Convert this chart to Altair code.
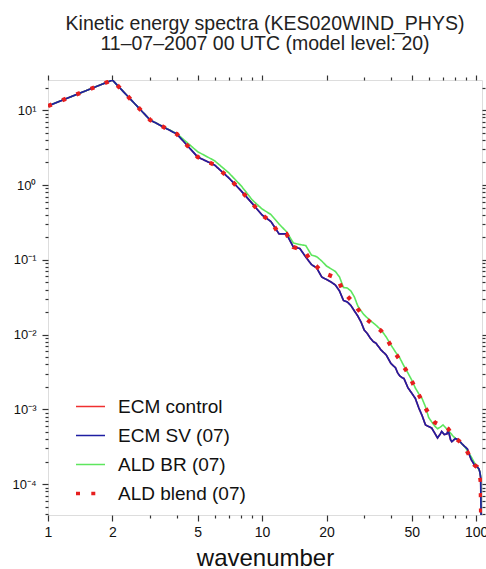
import altair as alt
import pandas as pd

# ---------------- data ----------------
SERIES = ["ECM control", "ECM SV (07)", "ALD BR (07)", "ALD blend (07)"]

k_sv = [1, 2, 3, 4, 5, 6, 7, 8, 9, 10, 11, 12, 13, 14, 15, 16, 17, 18, 19, 20,
        21, 22, 23, 24, 25, 26, 27, 28, 29, 30, 31, 32, 33, 34, 36, 38, 40, 42,
        43, 44, 45, 46, 48, 50, 52, 54, 56, 58, 60, 62, 64, 66, 68, 69, 71, 73,
        74, 76, 77, 80, 83, 86, 89, 91, 93, 95, 97, 99, 101, 103, 104, 105, 106]
v_sv = [11.4, 25.3, 7.4, 4.8, 2.37, 1.85, 1.24, 0.83, 0.566, 0.397,
        0.325, 0.222, 0.222, 0.148, 0.142, 0.109, 0.0865, 0.0777, 0.0589, 0.0545,
        0.0505, 0.046, 0.0383, 0.0286, 0.0273, 0.0245, 0.0207, 0.0177, 0.0147, 0.0115,
        0.01035, 0.0090, 0.0081, 0.0077, 0.0062, 0.00535, 0.0041, 0.0036,
        0.00307, 0.0028, 0.00267, 0.00259, 0.00195, 0.00165, 0.0014, 0.00104, 0.000817,
        0.000618, 0.00059, 0.000564, 0.000483, 0.000415, 0.000469, 0.000507,
        0.000461, 0.000469, 0.00053, 0.00039, 0.00037, 0.000408, 0.00039, 0.000344,
        0.000314, 0.000296, 0.000246, 0.000211, 0.000192, 0.000171, 0.000171,
        0.00016, 0.000146, 0.000121, 0.00001]

# control run lies underneath the SV run everywhere
k_ctl = list(k_sv)
v_ctl = list(v_sv)

k_br = [1, 2, 3, 4, 5, 6, 7, 8, 9, 10, 11, 12, 13, 14, 15, 16, 17, 18, 19, 20,
        22, 23, 24, 25, 26, 27, 28, 29, 30, 32, 34, 36, 38, 40, 42, 44, 46, 48,
        50, 52, 54, 56, 58, 60, 62, 64, 66, 68, 70, 72, 74, 76, 78, 80, 83, 86,
        89, 92, 95, 98, 101, 104, 105, 106]
v_br = [11.4, 25.3, 7.4, 4.85, 2.79, 2.11, 1.45, 0.97, 0.63, 0.478,
        0.403, 0.301, 0.238, 0.168, 0.16, 0.155, 0.116, 0.11, 0.0964, 0.0826,
        0.0698, 0.0589, 0.0426, 0.042, 0.0383, 0.0318, 0.0241, 0.0207, 0.0183,
        0.0154, 0.0134, 0.0115, 0.00929, 0.00726, 0.00585, 0.00486, 0.0038, 0.00307,
        0.00247, 0.00193, 0.00161, 0.00138, 0.00108, 0.00078, 0.00068, 0.0006,
        0.00055, 0.00058, 0.00062, 0.00057, 0.00052, 0.00048, 0.00044, 0.00041,
        0.00038, 0.000345, 0.00031, 0.000265, 0.00023, 0.000195, 0.000175,
        0.000147, 0.000129, 0.00001]

k_bl = [1, 2, 3, 4, 5, 6, 7, 8, 9, 10, 11, 12, 13, 14, 15, 16, 17, 18, 19, 20,
        22, 23, 24, 25, 26, 27, 28, 29, 30, 32, 34, 36, 38, 40, 42, 44, 46, 48,
        50, 52, 54, 56, 58, 60, 62, 64, 66, 68, 70, 72, 74, 76, 78, 80, 83, 86,
        89, 92, 95, 98, 101, 104, 105, 106]
v_bl = [11.4, 25.3, 7.4, 4.8, 2.37, 1.85, 1.24, 0.83, 0.566, 0.397,
        0.325, 0.222, 0.222, 0.148, 0.139, 0.123, 0.0935, 0.0814, 0.0698, 0.0645,
        0.058, 0.049, 0.0371, 0.0328, 0.029, 0.0257, 0.022, 0.0194, 0.0172,
        0.0147, 0.0128, 0.0112, 0.0090, 0.00705, 0.0056, 0.00457, 0.00369, 0.00307,
        0.0024, 0.0019, 0.00156, 0.00129, 0.00104, 0.00088, 0.00075, 0.00067,
        0.00064, 0.00062, 0.00061, 0.00058, 0.00055, 0.00049, 0.00044, 0.00041,
        0.00038, 0.000344, 0.000305, 0.000254, 0.000211, 0.000181, 0.00017,
        0.000137, 0.000107, 0.00001]

X_MAJOR = [1, 2, 5, 10, 20, 50, 100]
X_MINOR = [3, 4, 6, 7, 8, 9, 30, 40, 60, 70, 80, 90]
Y_MAJOR = [1e-4, 1e-3, 1e-2, 1e-1, 1, 10]
XDOM = [1, 106.5]
YDOM = [3.87e-5, 25.35]
Y_MINOR = [m * 10.0 ** e for e in range(-5, 2) for m in range(2, 10)
           if YDOM[0] <= m * 10.0 ** e <= YDOM[1]]

COLORS = ["#f03030", "#1e1ea2", "#5ee65e", "#e61e1e"]
DASHES = [[1, 0], [1, 0], [1, 0], [4, 11.3]]
WIDTHS = {"ECM control": 1.6, "ECM SV (07)": 1.7, "ALD BR (07)": 1.6,
          "ALD blend (07)": 4.2}

FONT = "Liberation Sans"

df = pd.concat([
    pd.DataFrame({"k": k_ctl, "v": v_ctl, "series": SERIES[0]}),
    pd.DataFrame({"k": k_sv, "v": v_sv, "series": SERIES[1]}),
    pd.DataFrame({"k": k_br, "v": v_br, "series": SERIES[2]}),
    pd.DataFrame({"k": k_bl, "v": v_bl, "series": SERIES[3]}),
], ignore_index=True)

xs = alt.Scale(type="log", domain=XDOM, nice=False)
ys = alt.Scale(type="log", domain=YDOM, nice=False)

TICK = dict(tickColor="#333333", tickWidth=1.2, domain=False, grid=False)

ax_bottom = alt.Axis(orient="bottom", values=X_MAJOR, format="d", tickSize=6,
                     labelFontSize=14, labelPadding=4, labelFlush=False,
                     labelOverlap=False, labelColor="#111111", labelFont=FONT,
                     title="wavenumber", titleFontSize=24, titleFontWeight="normal",
                     titleFont=FONT, titleColor="#111111", titleY=50,
                     titleBaseline="alphabetic", **TICK)
label_expr = ("datum.value > 5 ? '10¹' : datum.value > 0.5 ? '10⁰' : "
              "datum.value > 0.05 ? '10⁻¹' : datum.value > 0.005 ? '10⁻²' : "
              "datum.value > 0.0005 ? '10⁻³' : '10⁻⁴'")
ax_left = alt.Axis(orient="left", values=Y_MAJOR, labelExpr=label_expr, tickSize=6,
                   labelFontSize=13, labelPadding=6, labelFlush=False,
                   labelOverlap=False, labelColor="#111111", labelFont=FONT,
                   title=None, **TICK)


def bare(orient, values, size):
    return alt.Axis(orient=orient, values=values, tickSize=size, labels=False,
                    title=None, **TICK)


leg = alt.Legend(title=None, orient="none", legendX=33, legendY=317,
                 labelFontSize=19, labelFont=FONT, labelColor="#111111",
                 symbolType="stroke", symbolSize=841, labelOffset=18,
                 rowPadding=9, padding=0, labelLimit=300,
                 symbolStrokeWidth=alt.ExprRef(
                     "datum.value == 'ALD blend (07)' ? 3.5 : 1.3"))


def series_layer(name, x_axis=None, y_axis=None):
    return alt.Chart(df).transform_filter(alt.datum.series == name).mark_line(
        clip=True, strokeWidth=WIDTHS[name]).encode(
        x=alt.X("k:Q", scale=xs, axis=x_axis),
        y=alt.Y("v:Q", scale=ys, axis=y_axis),
        color=alt.Color("series:N", scale=alt.Scale(domain=SERIES, range=COLORS),
                        legend=leg),
        strokeDash=alt.StrokeDash("series:N",
                                  scale=alt.Scale(domain=SERIES, range=DASHES),
                                  legend=leg),
    )


def axis_layer(x_axis, y_axis):
    return alt.Chart(df).transform_filter(alt.datum.series == SERIES[1]).mark_line(
        opacity=0, clip=True).encode(
        x=alt.X("k:Q", scale=xs, axis=x_axis),
        y=alt.Y("v:Q", scale=ys, axis=y_axis),
    )


chart = alt.layer(
    series_layer(SERIES[0], ax_bottom, ax_left),
    series_layer(SERIES[2]),
    series_layer(SERIES[1]),
    series_layer(SERIES[3]),
    axis_layer(bare("bottom", X_MINOR, 3), bare("left", Y_MINOR, 3)),
    axis_layer(bare("top", X_MAJOR, 5), bare("right", Y_MAJOR, 6)),
    axis_layer(bare("top", X_MINOR, 3), bare("right", Y_MINOR, 3)),
).resolve_axis(x="independent", y="independent").properties(
    width=434, height=435,
    title=alt.Title(
        text=["Kinetic energy spectra (KES020WIND_PHYS)",
              "11–07–2007 00 UTC (model level: 20)"],
        fontSize=19.5, font=FONT, fontWeight="normal", color="#222222",
        anchor="middle", frame="group", baseline="alphabetic", lineHeight=20,
        offset=5),
    autosize=alt.AutoSizeParams(type="none"),
    padding={"left": 48, "top": 80, "right": 4, "bottom": 54},
).configure_view(stroke="#333333", strokeWidth=1.5).configure(font=FONT)

chart.save("out.html", embed_options={"renderer": "svg", "actions": False})
